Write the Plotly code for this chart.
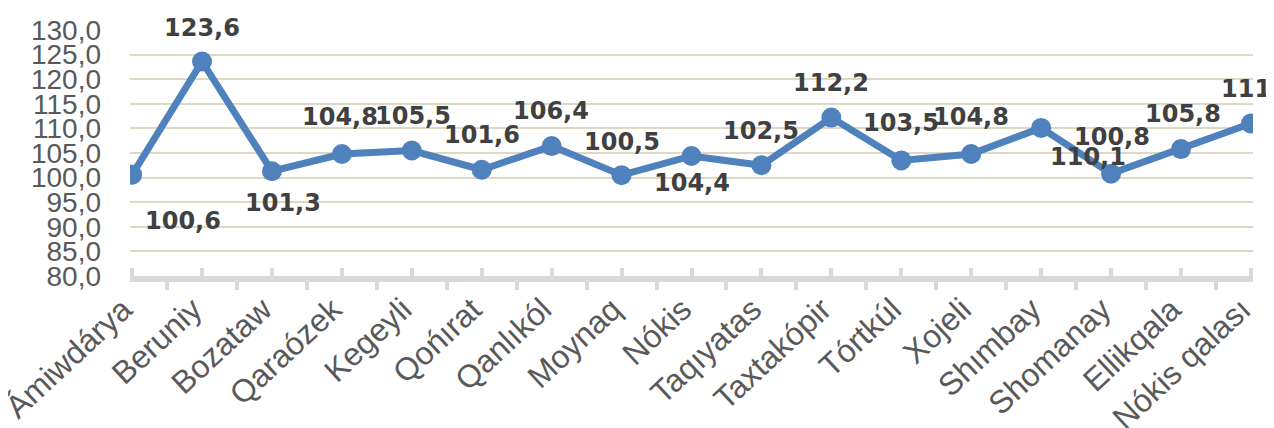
import plotly.graph_objects as go

# Tumanlar (districts) and index values
districts = ["Ámiwdárya", "Beruniy", "Bozataw", "Qaraózek", "Kegeyli", "Qońırat",
             "Qanlıkól", "Moynaq", "Nókis", "Taqıyatas", "Taxtakópir", "Tórtkúl",
             "Xojeli", "Shımbay", "Shomanay", "Ellikqala", "Nókis qalası"]
values = [100.6, 123.6, 101.3, 104.8, 105.5, 101.6, 106.4, 100.5, 104.4, 102.5,
          112.2, 103.5, 104.8, 110.1, 100.8, 105.8, 111.0]

y_ticks = [80, 85, 90, 95, 100, 105, 110, 115, 120, 125, 130]

# label offsets in px (dx, dy), dy positive = up
label_offsets = [(51, -46), (0, 33), (11, -32), (-2, 37), (1, 35), (0, 35),
                 (-1, 35), (0, 33), (0, -27), (0, 34), (0, 35), (0, 37),
                 (0, 37), (47, -29), (1, 37), (2, 35), (-5, 34)]

LINE_COLOR = "#4F81BD"
LABEL_COLOR = "#404040"
TICK_COLOR = "#595959"

x_idx = list(range(len(districts)))

fig = go.Figure()
fig.add_trace(go.Scatter(
    x=x_idx, y=values,
    mode="lines+markers",
    line=dict(color=LINE_COLOR, width=7),
    marker=dict(color=LINE_COLOR, size=20),
    hoverinfo="skip",
))

for i, v in enumerate(values):
    dx, dy = label_offsets[i]
    fig.add_annotation(
        x=i, y=v, text=f"{v:g}".replace(".", ","),
        showarrow=False, xanchor="center", yanchor="middle",
        xshift=dx, yshift=dy,
        font=dict(family="DejaVu Sans", size=24, color=LABEL_COLOR, weight="bold"),
    )

# page body has an 8px default margin, so the figure is sized to fit inside it
fig.update_layout(
    width=1266, height=420,
    margin=dict(l=122, r=21, t=22, b=152),
    paper_bgcolor="white", plot_bgcolor="white",
    separators=",.",
    showlegend=False,
    font=dict(family="Liberation Sans", color=TICK_COLOR),
)

fig.update_xaxes(
    automargin=False,
    range=[-0.03, len(districts) - 1 + 0.03],
    tickmode="array", tickvals=x_idx, ticktext=districts,
    tickangle=-43, tickfont=dict(size=32, color=TICK_COLOR),
    ticklabelstandoff=-4, ticklabelshift=-9, ticklabeloverflow="allow",
    showgrid=False, zeroline=False,
    showline=True, linecolor="#D9D9D9", linewidth=6,
    ticks="inside", ticklen=8, tickwidth=4, tickcolor="#D9D9D9",
    minor=dict(tickvals=[i + 0.5 for i in x_idx[:-1]], ticks="outside",
               ticklen=8, tickwidth=4, tickcolor="#D9D9D9", showgrid=False),
)

fig.update_yaxes(
    automargin=False,
    range=[80, 130],
    tickmode="array", tickvals=y_ticks, tickformat=".1f",
    tickfont=dict(size=28, color=TICK_COLOR),
    showgrid=True, gridcolor="#DDD9C3", gridwidth=2,
    zeroline=False, showline=False, ticks="",
    ticklabelstandoff=28,
)

fig.write_html("out.html")
